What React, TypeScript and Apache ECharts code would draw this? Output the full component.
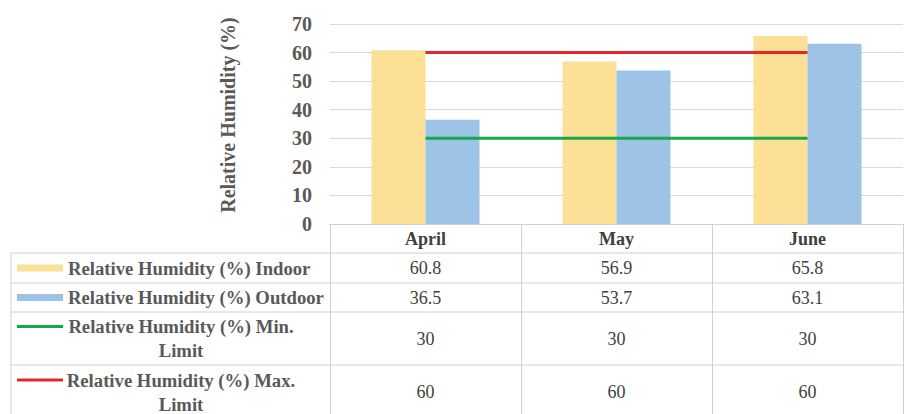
import React from 'react';
import * as echarts from 'echarts';

const categories = ['April', 'May', 'June'];
const indoor = [60.8, 56.9, 65.8];
const outdoor = [36.5, 53.7, 63.1];
const minLimit = [30, 30, 30];
const maxLimit = [60, 60, 60];
const seriesNames = [
  'Relative Humidity (%) Indoor',
  'Relative Humidity (%) Outdoor',
  'Relative Humidity (%) Min. Limit',
  'Relative Humidity (%) Max. Limit',
];
const yMin = 0;
const yMax = 70;
const yStep = 10;

const FONT = 'Liberation Serif, Times New Roman, serif';
const colors = ['#FBE096', '#9DC3E6', '#16A84A', '#E3262B'];
const kinds = ['bar', 'bar', 'line', 'line'];

// table row edges (px) below the plot
const rowEdges = [253, 283, 312, 365, 419];
const TABLE_LEFT = 11;
const TABLE_RIGHT = 903;

// wrap long labels onto a second line like the Excel table does
const wrap = (s: string) => (s.length > 30 ? s.replace(/ (\S+)$/, '\n$1') : s);

const App: React.FC = () => {
  const chartRef = React.useRef<HTMLDivElement>(null);

  React.useEffect(() => {
    if (!chartRef.current) return;
    document.body.style.margin = '0';
    const chart = echarts.init(chartRef.current, null, { renderer: 'svg' });

    const values = [indoor, outdoor, minLimit, maxLimit];

    chart.setOption({
      animation: false,
      textStyle: { fontFamily: FONT },
      grid: { left: 330, right: 2, top: 24, bottom: 190 },
      xAxis: {
        type: 'category',
        data: categories,
        axisLine: { show: true, lineStyle: { color: '#D0D0D0', width: 1 } },
        axisTick: { show: true, length: 200, lineStyle: { color: '#D0D0D0', width: 1 } },
        axisLabel: {
          margin: 6,
          fontFamily: FONT,
          fontWeight: 'bold',
          fontSize: 18,
          color: '#404040',
        },
      },
      yAxis: {
        type: 'value',
        min: yMin,
        max: yMax,
        interval: yStep,
        name: 'Relative Humidity (%)',
        nameLocation: 'middle',
        nameRotate: 90,
        nameGap: 92,
        nameTextStyle: {
          fontFamily: FONT,
          fontWeight: 'bold',
          fontSize: 20,
          color: '#595959',
          padding: [0, 0, 0, 18],
        },
        axisLine: { show: false },
        axisTick: { show: false },
        splitLine: { lineStyle: { color: '#D9D9D9', width: 1 } },
        axisLabel: {
          margin: 18,
          fontFamily: FONT,
          fontWeight: 'bold',
          fontSize: 20,
          color: '#595959',
        },
      },
      series: values.map((v, i) =>
        kinds[i] === 'bar'
          ? {
              name: seriesNames[i],
              type: 'bar',
              data: v,
              barWidth: 54,
              barGap: '0%',
              itemStyle: { color: colors[i] },
            }
          : {
              name: seriesNames[i],
              type: 'line',
              data: v,
              showSymbol: false,
              symbol: 'none',
              lineStyle: { color: colors[i], width: 3 },
              z: 5,
            }
      ),
    });

    const xs = categories.map((c) => chart.convertToPixel({ xAxisIndex: 0 }, c) as number);
    const elements: any[] = [];

    // table grid lines
    rowEdges.slice(0, 4).forEach((y) => {
      elements.push({
        type: 'line',
        shape: { x1: TABLE_LEFT, y1: y, x2: TABLE_RIGHT, y2: y },
        style: { stroke: '#D0D0D0', lineWidth: 1 },
      });
    });
    elements.push({
      type: 'line',
      shape: { x1: TABLE_LEFT, y1: rowEdges[0], x2: TABLE_LEFT, y2: rowEdges[4] },
      style: { stroke: '#D0D0D0', lineWidth: 1 },
    });

    seriesNames.forEach((name, i) => {
      const top = rowEdges[i];
      const bottom = rowEdges[i + 1];
      const mid = (top + bottom) / 2;
      const label = wrap(name);
      const multi = label.includes('\n');
      const keyY = multi ? mid - 12 : mid;

      // legend key
      if (kinds[i] === 'bar') {
        elements.push({
          type: 'rect',
          shape: { x: 17, y: keyY - 3.5, width: 46, height: 7 },
          style: { fill: colors[i] },
        });
      } else {
        elements.push({
          type: 'line',
          shape: { x1: 17, y1: keyY, x2: 63, y2: keyY },
          style: { stroke: colors[i], lineWidth: 3 },
        });
      }

      // row label
      elements.push({
        type: 'text',
        x: multi ? 181 : 68,
        y: mid,
        style: {
          text: label,
          fill: '#595959',
          fontFamily: FONT,
          fontWeight: 'bold',
          fontSize: 18.7,
          lineHeight: 24,
          align: multi ? 'center' : 'left',
          verticalAlign: 'middle',
        },
      });

      // values
      values[i].forEach((v, j) => {
        elements.push({
          type: 'text',
          x: xs[j],
          y: mid,
          style: {
            text: String(v),
            fill: '#404040',
            fontFamily: FONT,
            fontSize: 18,
            align: 'center',
            verticalAlign: 'middle',
          },
        });
      });
    });

    chart.setOption({ graphic: elements });

    return () => {
      chart.dispose();
    };
  }, []);

  return <div ref={chartRef} style={{ width: '905px', height: '414px' }} />;
};

export default App;
